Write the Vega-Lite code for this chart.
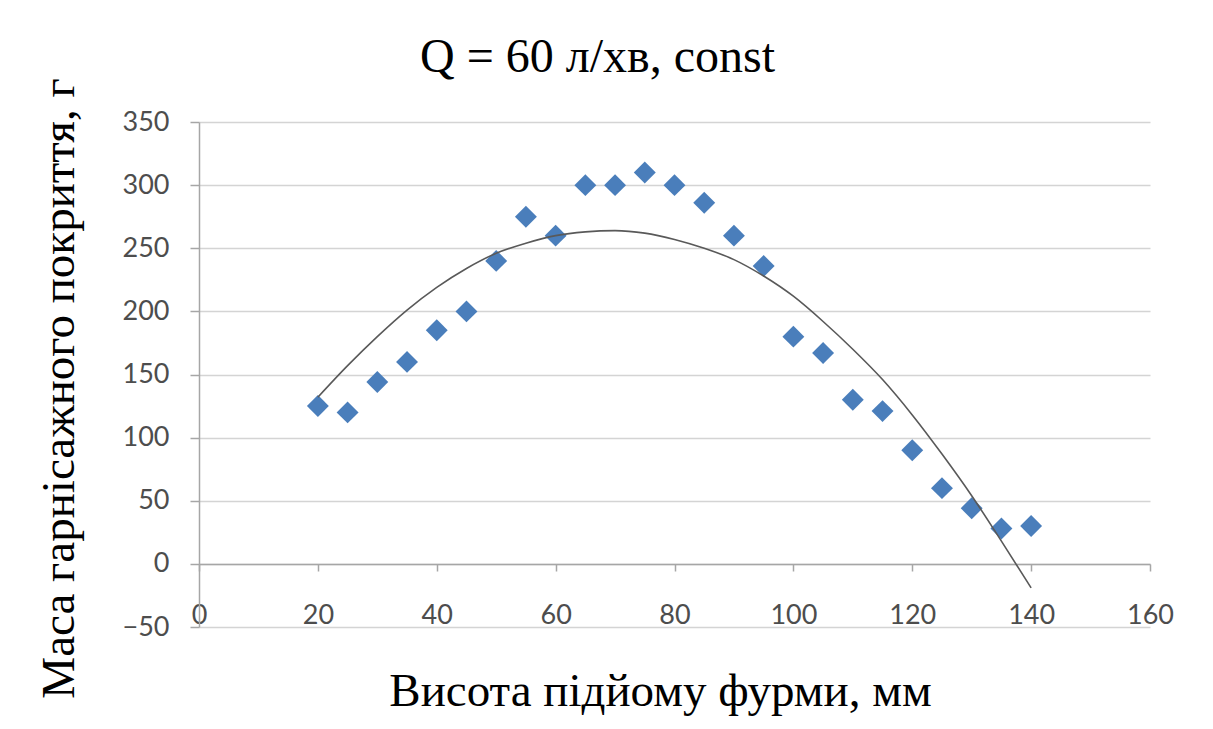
{
  "$schema": "https://vega.github.io/schema/vega-lite/v6.json",
  "width": 951,
  "height": 505,
  "autosize": {"type": "none"},
  "padding": {"left": 199, "top": 122, "right": 63, "bottom": 102},
  "background": "white",
  "config": {"view": {"stroke": null}},
  "title": {
    "text": "Q = 60 л/хв, const",
    "font": "Liberation Serif",
    "fontSize": 48,
    "fontWeight": "normal",
    "color": "#000000",
    "anchor": "middle",
    "frame": "group",
    "dx": -77,
    "dy": 47,
    "baseline": "alphabetic",
    "offset": 5
  },
  "datasets": {
    "points": [
      {"h": 20, "m": 125}, {"h": 25, "m": 120}, {"h": 30, "m": 144}, {"h": 35, "m": 160},
      {"h": 40, "m": 185}, {"h": 45, "m": 200}, {"h": 50, "m": 240}, {"h": 55, "m": 275},
      {"h": 60, "m": 260}, {"h": 65, "m": 300}, {"h": 70, "m": 300}, {"h": 75, "m": 310},
      {"h": 80, "m": 300}, {"h": 85, "m": 286}, {"h": 90, "m": 260}, {"h": 95, "m": 236},
      {"h": 100, "m": 180}, {"h": 105, "m": 167}, {"h": 110, "m": 130}, {"h": 115, "m": 121},
      {"h": 120, "m": 90}, {"h": 125, "m": 60}, {"h": 130, "m": 44}, {"h": 135, "m": 28},
      {"h": 140, "m": 30}
    ],
    "trend": [
      {"h": 20, "m": 132}, {"h": 25, "m": 157}, {"h": 30, "m": 180}, {"h": 35, "m": 201},
      {"h": 40, "m": 219}, {"h": 45, "m": 234}, {"h": 50, "m": 246}, {"h": 55, "m": 254},
      {"h": 60, "m": 260}, {"h": 65, "m": 263}, {"h": 70, "m": 264}, {"h": 75, "m": 262},
      {"h": 80, "m": 257}, {"h": 85, "m": 250}, {"h": 90, "m": 241}, {"h": 95, "m": 228},
      {"h": 100, "m": 212}, {"h": 105, "m": 192}, {"h": 110, "m": 170}, {"h": 115, "m": 146},
      {"h": 120, "m": 118}, {"h": 125, "m": 87}, {"h": 130, "m": 54}, {"h": 135, "m": 18},
      {"h": 140, "m": -19}
    ]
  },
  "encoding": {
    "x": {
      "field": "h",
      "type": "quantitative",
      "scale": {"domain": [0, 160], "nice": false, "zero": false},
      "axis": {
        "title": "Висота підйому фурми, мм",
        "titleFont": "Liberation Serif",
        "titleFontSize": 47,
        "titleFontWeight": "normal",
        "titleColor": "#000000",
        "titleX": 461,
        "titleY": 141,
        "titleAlign": "center",
        "titleBaseline": "alphabetic",
        "offset": -63,
        "values": [0, 20, 40, 60, 80, 100, 120, 140, 160],
        "grid": false,
        "domainColor": "#a6a6a6",
        "domainWidth": 1.5,
        "tickColor": "#a6a6a6",
        "tickWidth": 1.5,
        "tickSize": 7,
        "labelPadding": 31,
        "labelFont": "Lato",
        "labelFontSize": 27,
        "labelColor": "#4d4d4d",
        "labelFlush": false,
        "labelOverlap": false
      }
    },
    "y": {
      "field": "m",
      "type": "quantitative",
      "scale": {"domain": [-50, 350], "nice": false, "zero": false},
      "axis": {
        "title": "Маса гарнісажного покриття, г",
        "titleFont": "Liberation Serif",
        "titleFontSize": 47,
        "titleFontWeight": "normal",
        "titleColor": "#000000",
        "titleAngle": 270,
        "titleX": -126,
        "titleY": 266,
        "titleAlign": "center",
        "titleBaseline": "alphabetic",
        "values": [-50, 0, 50, 100, 150, 200, 250, 300, 350],
        "grid": true,
        "gridColor": "#d4d4d4",
        "gridWidth": 1.6,
        "domainColor": "#a6a6a6",
        "domainWidth": 1.5,
        "tickColor": "#a6a6a6",
        "tickWidth": 1.5,
        "tickSize": 9,
        "labelPadding": 21,
        "labelFont": "Lato",
        "labelFontSize": 27,
        "labelColor": "#4d4d4d",
        "labelOverlap": false
      }
    }
  },
  "layer": [
    {
      "data": {"name": "points"},
      "mark": {"type": "point", "shape": "diamond", "filled": true, "size": 480, "color": "#4a7ebb", "opacity": 1}
    },
    {
      "data": {"name": "trend"},
      "mark": {"type": "line", "color": "#595959", "strokeWidth": 1.6, "interpolate": "monotone"}
    }
  ]
}
